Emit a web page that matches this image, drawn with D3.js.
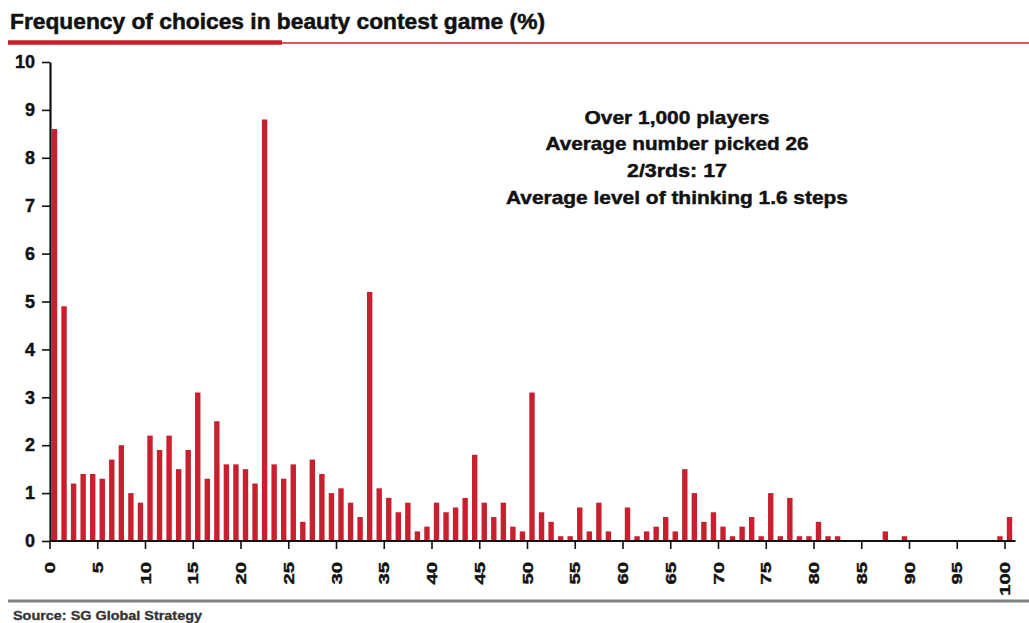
<!DOCTYPE html>
<html>
<head>
<meta charset="utf-8">
<script src="https://cdn.jsdelivr.net/npm/d3@7"></script>
<style>
  html, body { margin: 0; padding: 0; background: #fff; }
  svg { display: block; font-family: "Liberation Sans", Arial, sans-serif; }
</style>
</head>
<body>
<svg id="chart" width="1029" height="623"></svg>
<script>
// ---- data ----
const choices = d3.range(0, 101);
const frequency = [
  8.6, 4.9, 1.2, 1.4, 1.4, 1.3, 1.7, 2.0, 1.0, 0.8,
  2.2, 1.9, 2.2, 1.5, 1.9, 3.1, 1.3, 2.5, 1.6, 1.6,
  1.5, 1.2, 8.8, 1.6, 1.3, 1.6, 0.4, 1.7, 1.4, 1.0,
  1.1, 0.8, 0.5, 5.2, 1.1, 0.9, 0.6, 0.8, 0.2, 0.3,
  0.8, 0.6, 0.7, 0.9, 1.8, 0.8, 0.5, 0.8, 0.3, 0.2,
  3.1, 0.6, 0.4, 0.1, 0.1, 0.7, 0.2, 0.8, 0.2, 0.0,
  0.7, 0.1, 0.2, 0.3, 0.5, 0.2, 1.5, 1.0, 0.4, 0.6,
  0.3, 0.1, 0.3, 0.5, 0.1, 1.0, 0.1, 0.9, 0.1, 0.1,
  0.4, 0.1, 0.1, 0.0, 0.0, 0.0, 0.0, 0.2, 0.0, 0.1,
  0.0, 0.0, 0.0, 0.0, 0.0, 0.0, 0.0, 0.0, 0.0, 0.1,
  0.5
];
const yTicks = [0, 1, 2, 3, 4, 5, 6, 7, 8, 9, 10];
const xTicks = d3.range(0, 101, 5);
const titleText = "Frequency of choices in beauty contest game (%)";
const noteLines = [
  "Over 1,000 players",
  "Average number picked 26",
  "2/3rds: 17",
  "Average level of thinking 1.6 steps"
];
const sourceText = "Source: SG Global Strategy";

// ---- layout ----
const svg = d3.select("#chart");
const RED = "#c8202f";
const INK = "#111";

const x = d3.scaleBand().domain(choices).range([50, 50 + 101 * 9.55]).padding(0);
const y = d3.scaleLinear().domain([0, 10]).range([541, 62]);
const step = x.step();

// title
svg.append("text")
  .attr("x", 10).attr("y", 29)
  .attr("font-size", 21.5).attr("font-weight", "bold").attr("fill", INK)
  .attr("stroke", INK).attr("stroke-width", 0.5)
  .attr("textLength", 535).attr("lengthAdjust", "spacingAndGlyphs")
  .text(titleText);
svg.append("line").attr("x1", 280).attr("x2", 1029).attr("y1", 43).attr("y2", 43)
  .attr("stroke", RED).attr("stroke-width", 1.3);
svg.append("line").attr("x1", 8).attr("x2", 282).attr("y1", 42.5).attr("y2", 42.5)
  .attr("stroke", RED).attr("stroke-width", 4.5);

// bars
svg.append("g").selectAll("rect")
  .data(choices.filter(d => frequency[d] > 0))
  .join("rect")
  .attr("x", d => x(d) + 1.8)
  .attr("width", 5.4)
  .attr("y", d => y(frequency[d]))
  .attr("height", d => y(0) - y(frequency[d]))
  .attr("fill", RED);

// y axis
const yAxis = svg.append("g")
  .attr("transform", "translate(50,0)")
  .call(d3.axisLeft(y).tickValues(yTicks).tickFormat(d3.format("d")).tickSize(8).tickSizeOuter(0));
yAxis.select(".domain").attr("stroke", INK).attr("stroke-width", 2.2);
yAxis.selectAll(".tick line").attr("stroke", INK).attr("stroke-width", 1.6);
yAxis.selectAll(".tick text")
  .attr("x", -15).attr("font-size", 18).attr("font-weight", "bold").attr("fill", INK)
  .attr("stroke", INK).attr("stroke-width", 0.4)
  .attr("font-family", "Liberation Sans, Arial, sans-serif");

// x axis
const xAxis = svg.append("g")
  .attr("transform", `translate(0,${y(0)})`)
  .call(d3.axisBottom(x).tickValues(xTicks).tickSize(8).tickSizeOuter(0));
xAxis.selectAll(".tick").attr("transform", d => `translate(${x(d)},0)`);
xAxis.select(".domain").attr("stroke", INK).attr("stroke-width", 2.2)
  .attr("d", `M50,0H${x(100) + step + 1}`);
xAxis.selectAll(".tick line").attr("stroke", INK).attr("stroke-width", 1.6);
xAxis.selectAll(".tick text")
  .attr("font-size", 14.5).attr("font-weight", "bold").attr("fill", INK)
  .attr("stroke", INK).attr("stroke-width", 0.4)
  .attr("font-family", "Liberation Sans, Arial, sans-serif")
  .attr("text-anchor", "end")
  .attr("x", 0).attr("y", 0).attr("dy", "0.36em")
  .attr("transform", "translate(0,21) rotate(-90) scale(1.4,1)");

// annotation
const note = svg.append("g").attr("font-size", 18.5).attr("font-weight", "bold")
  .attr("fill", INK).attr("stroke", INK).attr("stroke-width", 0.45);
const noteWidths = [185, 263, 100, 342];
noteLines.forEach((t, i) => {
  note.append("text")
    .attr("x", 677).attr("y", 123.5 + i * 26.8)
    .attr("text-anchor", "middle")
    .attr("textLength", noteWidths[i]).attr("lengthAdjust", "spacingAndGlyphs")
    .text(t);
});

// footer
svg.append("line").attr("x1", 8).attr("x2", 1029).attr("y1", 601).attr("y2", 601)
  .attr("stroke", "#808080").attr("stroke-width", 3);
svg.append("text")
  .attr("x", 13).attr("y", 620)
  .attr("font-size", 12.5).attr("font-weight", "bold").attr("fill", "#333")
  .attr("stroke", "#333").attr("stroke-width", 0.3)
  .attr("textLength", 189).attr("lengthAdjust", "spacingAndGlyphs")
  .text(sourceText);
</script>
</body>
</html>
